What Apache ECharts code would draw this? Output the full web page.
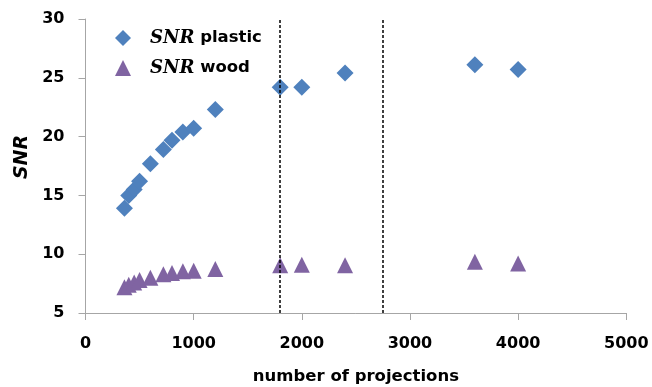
<!DOCTYPE html>
<html><head><meta charset="utf-8">
<script src="https://cdn.jsdelivr.net/npm/echarts@6/dist/echarts.min.js"></script>
<style>html,body{margin:0;padding:0;background:#fff}#c{width:652px;height:387px}</style>
</head><body><div id="c"></div>
<script>
const projections = [360, 400, 450, 500, 600, 720, 800, 900, 1000, 1200, 1800, 2000, 2400, 3600, 4000];
const snrPlastic = [13.9, 15.0, 15.5, 16.2, 17.7, 18.9, 19.7, 20.4, 20.7, 22.3, 24.2, 24.2, 25.4, 26.1, 25.7];
const snrWood = [7.2, 7.4, 7.6, 7.8, 8.0, 8.3, 8.4, 8.55, 8.6, 8.75, 9.05, 9.1, 9.05, 9.35, 9.2];
const refLines = [1800, 2750];
const xTicks = {min: 0, max: 5000, step: 1000};
const yTicks = {min: 5, max: 30, step: 5};
const seriesNames = ['SNR plastic', 'SNR wood'];

const FONT = 'DejaVu Sans';
const chart = echarts.init(document.getElementById('c'), null, {renderer: 'canvas'});
const pair = (xs, ys) => xs.map((x, i) => [x, ys[i]]);
const axisCommon = {
  axisLine: {show: true, lineStyle: {color: '#A6A6A6', width: 1}},
  axisTick: {show: true, inside: false, length: 7, lineStyle: {color: '#A6A6A6'}},
  splitLine: {show: false},
  axisLabel: {color: '#000', fontFamily: FONT, fontWeight: 'bold', fontSize: 16, formatter: v => String(v)}
};
chart.setOption({
  animation: false,
  backgroundColor: '#fff',
  grid: {left: 85.5, right: 25.7, top: 19, bottom: 74, containLabel: false, outerBoundsMode: 'none'},
  legend: {
    orient: 'vertical', left: 110, top: 24, itemWidth: 16, itemHeight: 16, itemGap: 12,
    data: [{name: seriesNames[0], icon: 'diamond'}, {name: seriesNames[1], icon: 'triangle'}],
    formatter: n => '{i|SNR}{t|' + n.replace('SNR', '') + '}',
    textStyle: {
      padding: [0, 0, 0, 14],
      rich: {
        i: {fontFamily: 'DejaVu Serif', fontStyle: 'italic', fontWeight: 'bold', fontSize: 18, color: '#000', lineHeight: 18},
        t: {fontFamily: FONT, fontWeight: 'bold', fontSize: 16.5, color: '#000', lineHeight: 18}
      }
    }
  },
  xAxis: Object.assign({}, axisCommon, {
    type: 'value', min: xTicks.min, max: xTicks.max, interval: xTicks.step,
    name: 'number of projections', nameLocation: 'middle', nameGap: 55,
    nameTextStyle: {color: '#000', fontFamily: FONT, fontWeight: 'bold', fontSize: 16.5},
    axisLabel: Object.assign({}, axisCommon.axisLabel, {margin: 23})
  }),
  yAxis: Object.assign({}, axisCommon, {
    type: 'value', min: yTicks.min, max: yTicks.max, interval: yTicks.step,
    name: 'SNR', nameLocation: 'middle', nameGap: 52,
    nameTextStyle: {color: '#000', fontFamily: FONT, fontWeight: 'bold', fontStyle: 'italic', fontSize: 19, padding: [0, 0, 0, 18]},
    axisLabel: Object.assign({}, axisCommon.axisLabel, {margin: 21})
  }),
  series: [
    {
      name: seriesNames[0], type: 'scatter', symbol: 'diamond', symbolSize: 17,
      itemStyle: {color: '#4F81BD', opacity: 1},
      data: pair(projections, snrPlastic),
      markLine: {
        silent: true, symbol: ['none', 'none'], label: {show: false},
        lineStyle: {color: '#000', type: [3, 2], width: 1.5},
        data: refLines.map(v => ({xAxis: v}))
      }
    },
    {
      name: seriesNames[1], type: 'scatter', symbol: 'triangle', symbolSize: 16,
      itemStyle: {color: '#8064A2', opacity: 1},
      data: pair(projections, snrWood)
    }
  ]
});
</script></body></html>
